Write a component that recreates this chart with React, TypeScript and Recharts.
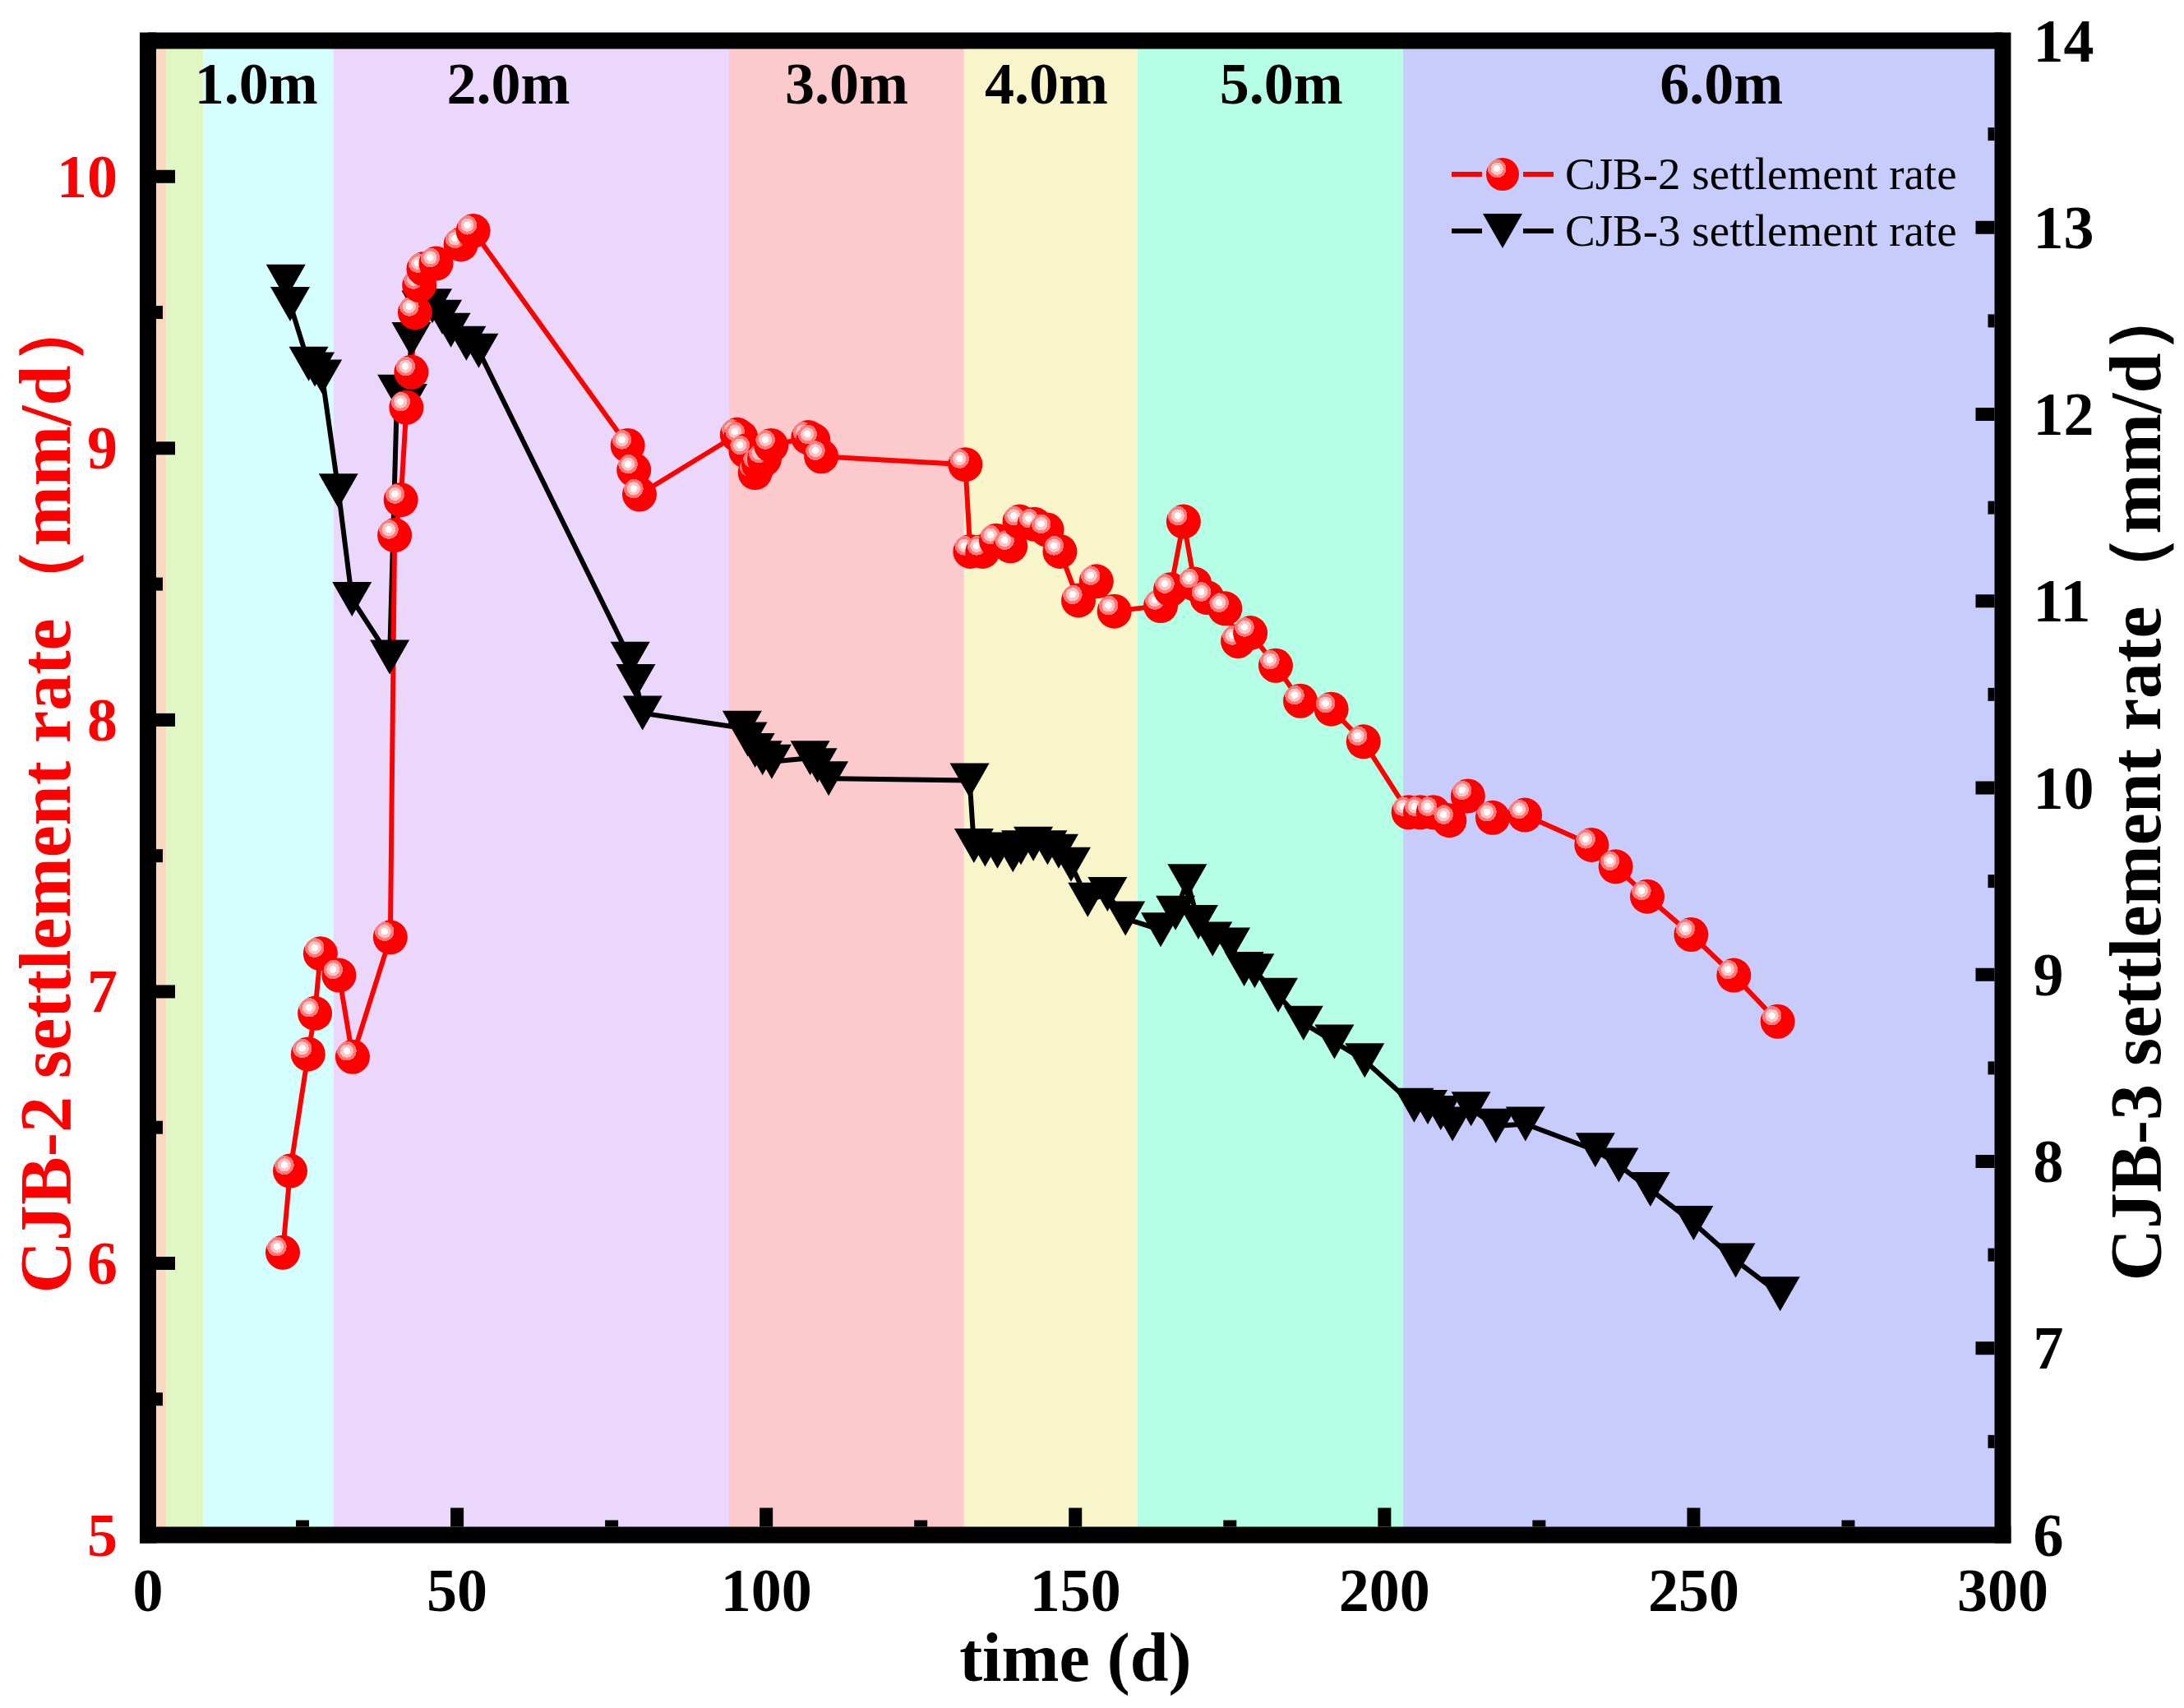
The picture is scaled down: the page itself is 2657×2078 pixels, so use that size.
import React from "react";
import {
  ComposedChart,
  Line,
  XAxis,
  YAxis,
  ReferenceArea,
  ReferenceLine,
  Legend,
} from "recharts";

// excavation stages (time in days)
const stageStart = [0, 3, 9, 30, 94, 132, 160, 203];
const stageEnd = [3, 9, 30, 94, 132, 160, 203, 300];

// stage depth labels and where they sit along the time axis
const depthNames = ["1.0m", "2.0m", "3.0m", "4.0m", "5.0m", "6.0m"];
const depthDay = [17.5, 58.3, 113, 145.3, 183.3, 254.5];

// CJB-2 settlement rate (mm/d), left axis
const cjb2Days = [
  21.8, 23.0, 25.9, 27.0, 27.9, 30.9, 33.1, 39.2, 39.9, 40.9, 41.8, 42.6, 43.2,
  43.9, 44.6, 46.6, 50.6, 52.6, 77.6, 78.6, 79.5, 95.3, 95.9, 96.7, 98.2, 98.8,
  99.7, 100.8, 106.8, 107.6, 108.9, 132.2, 133.0, 135.0, 137.2, 139.5, 141.0,
  143.4, 145.4, 147.5, 150.5, 153.4, 156.3, 163.8, 165.4, 167.5, 169.3, 171.3,
  174.2, 176.3, 178.3, 182.4, 186.4, 191.4, 196.6, 203.9, 205.8, 207.9, 210.5,
  213.5, 217.5, 222.7, 233.5, 237.4, 242.5, 249.6, 256.5, 263.6,
];
const cjb2Rate = [
  6.04, 6.34, 6.77, 6.92, 7.14, 7.06, 6.76, 7.2, 8.68, 8.81, 9.15, 9.28, 9.5,
  9.6, 9.66, 9.68, 9.75, 9.8, 9.01, 8.92, 8.83, 9.05, 9.04, 8.99, 8.91, 8.94,
  8.96, 9.01, 9.04, 9.03, 8.97, 8.94, 8.62, 8.62, 8.66, 8.64, 8.73, 8.72, 8.7,
  8.62, 8.44, 8.51, 8.4, 8.42, 8.48, 8.73, 8.5, 8.45, 8.41, 8.29, 8.32, 8.2,
  8.07, 8.04, 7.92, 7.66, 7.66, 7.66, 7.63, 7.72, 7.64, 7.65, 7.54, 7.46, 7.35,
  7.21, 7.06, 6.89,
];

// CJB-3 settlement rate (mm/d), right axis
const cjb3Days = [
  22.3, 23.0, 26.0, 27.0, 28.2, 30.8, 33.0, 39.1, 40.3, 41.2, 42.0, 42.6, 44.2,
  46.0, 47.6, 49.0, 51.5, 53.5, 78.0, 78.9, 80.0, 96.1, 97.0, 98.2, 99.4, 100.9,
  107.1, 108.3, 110.1, 132.9, 133.6, 135.4, 137.4, 139.9, 141.2, 143.2, 145.5,
  147.3, 149.3, 152.0, 155.2, 158.1, 163.8, 166.2, 168.1, 169.9, 172.2, 175.1,
  177.3, 179.0, 182.8, 186.9, 191.9, 196.8, 204.8, 207.0, 209.1, 211.0, 214.0,
  218.0, 222.8, 234.1, 237.9, 243.0, 250.0, 256.8, 264.0,
];
const cjb3Rate = [
  12.71, 12.59, 12.27, 12.24, 12.2, 11.59, 11.01, 10.7, 12.12, 12.08, 12.07,
  12.4, 12.57, 12.58, 12.52, 12.45, 12.38, 12.34, 10.69, 10.57, 10.4, 10.32,
  10.26, 10.2, 10.16, 10.14, 10.16, 10.12, 10.05, 10.04, 9.69, 9.67, 9.66, 9.64,
  9.68, 9.7, 9.68, 9.66, 9.59, 9.4, 9.43, 9.3, 9.24, 9.33, 9.5, 9.28, 9.19,
  9.16, 9.03, 9.02, 8.89, 8.74, 8.64, 8.54, 8.3, 8.29, 8.26, 8.2, 8.28, 8.19,
  8.2, 8.06, 7.98, 7.85, 7.67, 7.47, 7.29,
];

const xTicks = [0, 25, 50, 75, 100, 125, 150, 175, 200, 225, 250, 275, 300];
const leftTicks = [5, 5.5, 6, 6.5, 7, 7.5, 8, 8.5, 9, 9.5, 10, 10.5];
const rightTicks = [6, 6.5, 7, 7.5, 8, 8.5, 9, 9.5, 10, 10.5, 11, 11.5, 12, 12.5, 13, 13.5, 14];

const stageColors = [
  "#F9D9BF",
  "#E0F7C3",
  "#D5FFFF",
  "#EBD7FC",
  "#FCCACC",
  "#F8F5CB",
  "#B4FFE5",
  "#C8CCFC",
];

const W = 2657;
const H = 2078;
const PL = 180;
const PR = 2436.5;
const PT = 49.5;
const PB = 1867.5;
const FONT = "'Liberation Serif', 'Times New Roman', serif";

const cjb2 = cjb2Days.map((d, i) => ({ d, v: cjb2Rate[i] }));
const cjb3 = cjb3Days.map((d, i) => ({ d, v: cjb3Rate[i] }));

const XTick = (props: any) => {
  const { x, y, payload } = props;
  const v = payload.value;
  const major = v % 50 === 0;
  return (
    <g>
      <line x1={x} x2={x} y1={y - 10} y2={y - 10 - (major ? 23 : 8)} stroke="#000" strokeWidth={16} />
      {major && (
        <text x={x} y={y + 92} textAnchor="middle" fontSize={74} fontWeight="bold" fontFamily={FONT} fill="#000">
          {v}
        </text>
      )}
    </g>
  );
};

const LeftTick = (props: any) => {
  const { x, y, payload } = props;
  const v = payload.value;
  const major = Number.isInteger(v);
  return (
    <g>
      <line x1={x + 10} x2={x + 10 + (major ? 23 : 8)} y1={y} y2={y} stroke="#000" strokeWidth={16} />
      {major && (
        <text x={x - 37} y={y + 25} textAnchor="end" fontSize={74} fontWeight="bold" fontFamily={FONT} fill="#FF0000">
          {v}
        </text>
      )}
    </g>
  );
};

const RightTick = (props: any) => {
  const { x, y, payload } = props;
  const v = payload.value;
  const major = Number.isInteger(v);
  return (
    <g>
      <line x1={x - 10} x2={x - 10 - (major ? 23 : 8)} y1={y} y2={y} stroke="#000" strokeWidth={16} />
      {major && (
        <text x={x + 37} y={y + 25} textAnchor="start" fontSize={74} fontWeight="bold" fontFamily={FONT} fill="#000">
          {v}
        </text>
      )}
    </g>
  );
};

const XTitle = () => (
  <text x={(PL + PR) / 2} y={2045} textAnchor="middle" fontSize={84} fontWeight="bold" fontFamily={FONT} fill="#000">
    time (d)
  </text>
);

const LeftTitle = () => (
  <text
    x={55}
    y={965}
    transform="rotate(-90, 55, 965)"
    textAnchor="middle"
    dominantBaseline="central"
    fontSize={88}
    fontWeight="bold"
    fontFamily={FONT}
    fill="#FF0000"
  >
    CJB-2 settlement rate（mm/d）
  </text>
);

const RightTitle = () => (
  <text
    x={2598}
    y={950}
    transform="rotate(-90, 2598, 950)"
    textAnchor="middle"
    dominantBaseline="central"
    fontSize={88}
    fontWeight="bold"
    fontFamily={FONT}
    fill="#000"
  >
    CJB-3 settlement rate（mm/d）
  </text>
);

const Ball = (props: any) => {
  const { cx, cy, index } = props;
  if (cx == null || cy == null) return <g key={`b${index}`} />;
  return <circle key={`b${index}`} cx={cx} cy={cy} r={21} fill="url(#ballFill)" />;
};

const DownTri = (props: any) => {
  const { cx, cy, index } = props;
  if (cx == null || cy == null) return <g key={`t${index}`} />;
  return (
    <path
      key={`t${index}`}
      d={`M${cx - 24},${cy - 21} L${cx + 24},${cy - 21} L${cx},${cy + 21} Z`}
      fill="#000"
    />
  );
};

const LegendBox = () => {
  const rows = [
    { name: "CJB-2 settlement rate", color: "#FF0000", ball: true },
    { name: "CJB-3 settlement rate", color: "#000", ball: false },
  ];
  return (
    <div>
      {rows.map((r) => (
        <div key={r.name} style={{ display: "flex", alignItems: "center", height: 69 }}>
          <svg width={124} height={50}>
            <line x1={0} x2={37} y1={25} y2={25} stroke={r.color} strokeWidth={6} />
            <line x1={87} x2={124} y1={25} y2={25} stroke={r.color} strokeWidth={6} />
            {r.ball ? (
              <circle cx={62} cy={25} r={20} fill="url(#ballFill)" />
            ) : (
              <path d="M38,4 L86,4 L62,46 Z" fill="#000" />
            )}
          </svg>
          <span style={{ marginLeft: 14, fontFamily: FONT, fontSize: 55, color: "#000", lineHeight: 1 }}>{r.name}</span>
        </div>
      ))}
    </div>
  );
};

export default function App() {
  return (
    <div style={{ position: "absolute", left: 0, top: 0, width: W, height: H, background: "#fff" }}>
      <svg width={0} height={0} style={{ position: "absolute" }}>
        <defs>
          <radialGradient id="ballFill" cx="0.33" cy="0.33" r="0.5" fx="0.33" fy="0.33">
            <stop offset="0" stopColor="#ffffff" />
            <stop offset="0.2" stopColor="#ffffff" />
            <stop offset="0.2" stopColor="#ffc4c4" />
            <stop offset="0.38" stopColor="#ffc4c4" />
            <stop offset="0.38" stopColor="#ff7a7a" />
            <stop offset="0.56" stopColor="#ff7a7a" />
            <stop offset="0.56" stopColor="#ff0000" />
            <stop offset="1" stopColor="#ff0000" />
          </radialGradient>
        </defs>
      </svg>
      <ComposedChart
        width={W}
        height={H}
        margin={{ top: PT, right: W - PR - 100, bottom: H - PB - 100, left: PL - 100 }}
      >
        {stageStart.map((s, i) => (
          <ReferenceArea
            key={`stage${i}`}
            x1={s}
            x2={stageEnd[i]}
            yAxisId="l"
            fill={stageColors[i]}
            fillOpacity={1}
            stroke="none"
            ifOverflow="visible"
          />
        ))}
        {depthNames.map((name, i) => (
          <ReferenceLine
            key={`depth${i}`}
            x={depthDay[i]}
            yAxisId="l"
            stroke="none"
            label={{
              value: name,
              position: "insideTop",
              offset: 25,
              fontSize: 72,
              fontWeight: "bold",
              fontFamily: FONT,
              fill: "#000",
            }}
          />
        ))}
        <XAxis
          dataKey="d"
          type="number"
          domain={[0, 300]}
          ticks={xTicks}
          allowDataOverflow
          height={100}
          tickSize={0}
          tickMargin={0}
          tickLine={false}
          axisLine={{ stroke: "#000", strokeWidth: 20, strokeLinecap: "square" }}
          tick={<XTick />}
          interval={0}
          label={<XTitle />}
        />
        <YAxis
          yAxisId="l"
          orientation="left"
          type="number"
          domain={[5, 10.5]}
          ticks={leftTicks}
          allowDataOverflow
          width={100}
          tickSize={0}
          tickMargin={0}
          tickLine={false}
          axisLine={{ stroke: "#000", strokeWidth: 20, strokeLinecap: "square" }}
          tick={<LeftTick />}
          interval={0}
          label={<LeftTitle />}
        />
        <YAxis
          yAxisId="r"
          orientation="right"
          type="number"
          domain={[6, 14]}
          ticks={rightTicks}
          allowDataOverflow
          width={100}
          tickSize={0}
          tickMargin={0}
          tickLine={false}
          axisLine={{ stroke: "#000", strokeWidth: 20, strokeLinecap: "square" }}
          tick={<RightTick />}
          interval={0}
          label={<RightTitle />}
        />
        <ReferenceLine y={10.5} yAxisId="l" stroke="#000" strokeWidth={20} ifOverflow="visible" />
        <Line
          data={cjb3}
          dataKey="v"
          yAxisId="r"
          type="linear"
          stroke="#000"
          strokeWidth={6}
          dot={DownTri}
          activeDot={false}
          isAnimationActive={false}
          name="CJB-3 settlement rate"
        />
        <Line
          data={cjb2}
          dataKey="v"
          yAxisId="l"
          type="linear"
          stroke="#FF0000"
          strokeWidth={6}
          dot={Ball}
          activeDot={false}
          isAnimationActive={false}
          name="CJB-2 settlement rate"
        />
        <Legend
          layout="vertical"
          align="center"
          verticalAlign="middle"
          content={<LegendBox />}
          wrapperStyle={{ left: 1766, top: 177, width: "auto", height: "auto" }}
        />
      </ComposedChart>
    </div>
  );
}
